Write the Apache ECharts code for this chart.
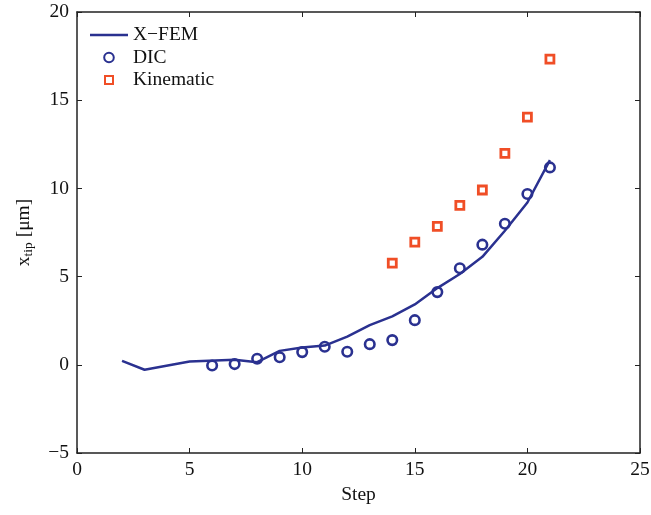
<!DOCTYPE html>
<html><head><meta charset="utf-8">
<script src="https://cdn.jsdelivr.net/npm/echarts@6/dist/echarts.min.js"></script>
<style>html,body{margin:0;padding:0;background:#fff}#c{width:651px;height:515px}</style>
</head><body><div id="c"></div>
<script>
const xfemSteps = [2,3,5,7,8,9,10,11,12,13,14,15,16,17,18,19,20,21];
const xfemValues = [0.22,-0.28,0.19,0.28,0.15,0.79,0.98,1.09,1.6,2.25,2.75,3.42,4.35,5.15,6.12,7.6,9.2,11.6];
const dicSteps = [6,7,8,9,10,11,12,13,14,15,16,17,18,19,20,21];
const dicValues = [-0.04,0.04,0.34,0.43,0.72,1.02,0.74,1.17,1.40,2.53,4.12,5.47,6.81,8.0,9.68,11.19];
const kinSteps = [14,15,16,17,18,19,20,21];
const kinValues = [5.76,6.96,7.85,9.04,9.91,11.99,14.04,17.33];
const xTicks = [0,5,10,15,20,25];
const yTicks = [-5,0,5,10,15,20];

const BLUE = '#2a3190', ORANGE = '#f04e26';
const FONT = '"Liberation Serif","DejaVu Serif",serif';
const FS = 19.5;
const zip = (a,b)=>a.map((v,i)=>[v,b[i]]);
const minus = v => String(v).replace('-', '\u2212');

const chart = echarts.init(document.getElementById('c'));
const axisCommon = () => ({
  axisLine:{onZero:false,lineStyle:{color:'#222',width:1.5}},
  axisTick:{inside:true,length:5,lineStyle:{color:'#222',width:1}},
  splitLine:{show:false}
});
chart.setOption({
  animation:false,
  backgroundColor:'#fff',
  grid:{left:77,right:11,top:12,bottom:62,containLabel:false,outerBoundsMode:'none'},
  legend:{
    left:84, top:20, orient:'vertical', itemGap:2.5, itemWidth:38, itemHeight:12,
    textStyle:{fontFamily:FONT,fontSize:FS,color:'#111'},
    data:[
      {name:'X\u2212FEM', icon:'path://M0,5 L38,5 L38,7.4 L0,7.4 Z', itemStyle:{color:BLUE,opacity:1}},
      {name:'DIC', icon:'path://M0,0 M38,12 M19,1.2 A4.8,4.8 0 1,1 18.99,1.2 Z', itemStyle:{opacity:1}},
      {name:'Kinematic', icon:'path://M0,0 M38,12 M15,2 L23,2 L23,10 L15,10 Z', itemStyle:{opacity:1}}
    ]
  },
  xAxis:[
    Object.assign({type:'value',min:0,max:25,interval:5,position:'bottom',
      name:'Step',nameLocation:'middle',nameGap:32,
      nameTextStyle:{fontFamily:FONT,fontSize:FS,color:'#111'},
      axisLabel:{fontFamily:FONT,fontSize:FS,color:'#111',margin:7,formatter:minus}},axisCommon()),
    Object.assign({type:'value',min:0,max:25,interval:5,position:'top',axisLabel:{show:false}},axisCommon())
  ],
  yAxis:[
    Object.assign({type:'value',min:-5,max:20,interval:5,position:'left',
      name:'x{sub|tip} [\u03bcm]',nameLocation:'middle',nameGap:42,nameRotate:90,
      nameTextStyle:{fontFamily:FONT,fontSize:FS,color:'#111',
        rich:{sub:{fontFamily:FONT,fontSize:13.5,color:'#111',verticalAlign:'bottom',padding:[9,0,0,0]}}},
      axisLabel:{fontFamily:FONT,fontSize:FS,color:'#111',margin:8,formatter:minus}},axisCommon()),
    Object.assign({type:'value',min:-5,max:20,interval:5,position:'right',axisLabel:{show:false}},axisCommon())
  ],
  series:[
    {name:'X\u2212FEM',type:'line',data:zip(xfemSteps,xfemValues),showSymbol:false,symbol:'none',
      lineStyle:{color:BLUE,width:2.5},itemStyle:{color:BLUE}},
    {name:'DIC',type:'scatter',data:zip(dicSteps,dicValues),symbol:'circle',symbolSize:9.5,
      itemStyle:{color:'#fff',borderColor:BLUE,borderWidth:2.6,opacity:1}},
    {name:'Kinematic',type:'scatter',data:zip(kinSteps,kinValues),symbol:'rect',symbolSize:8,
      itemStyle:{color:'#fff',borderColor:ORANGE,borderWidth:2.8,opacity:1}}
  ]
});
</script></body></html>
